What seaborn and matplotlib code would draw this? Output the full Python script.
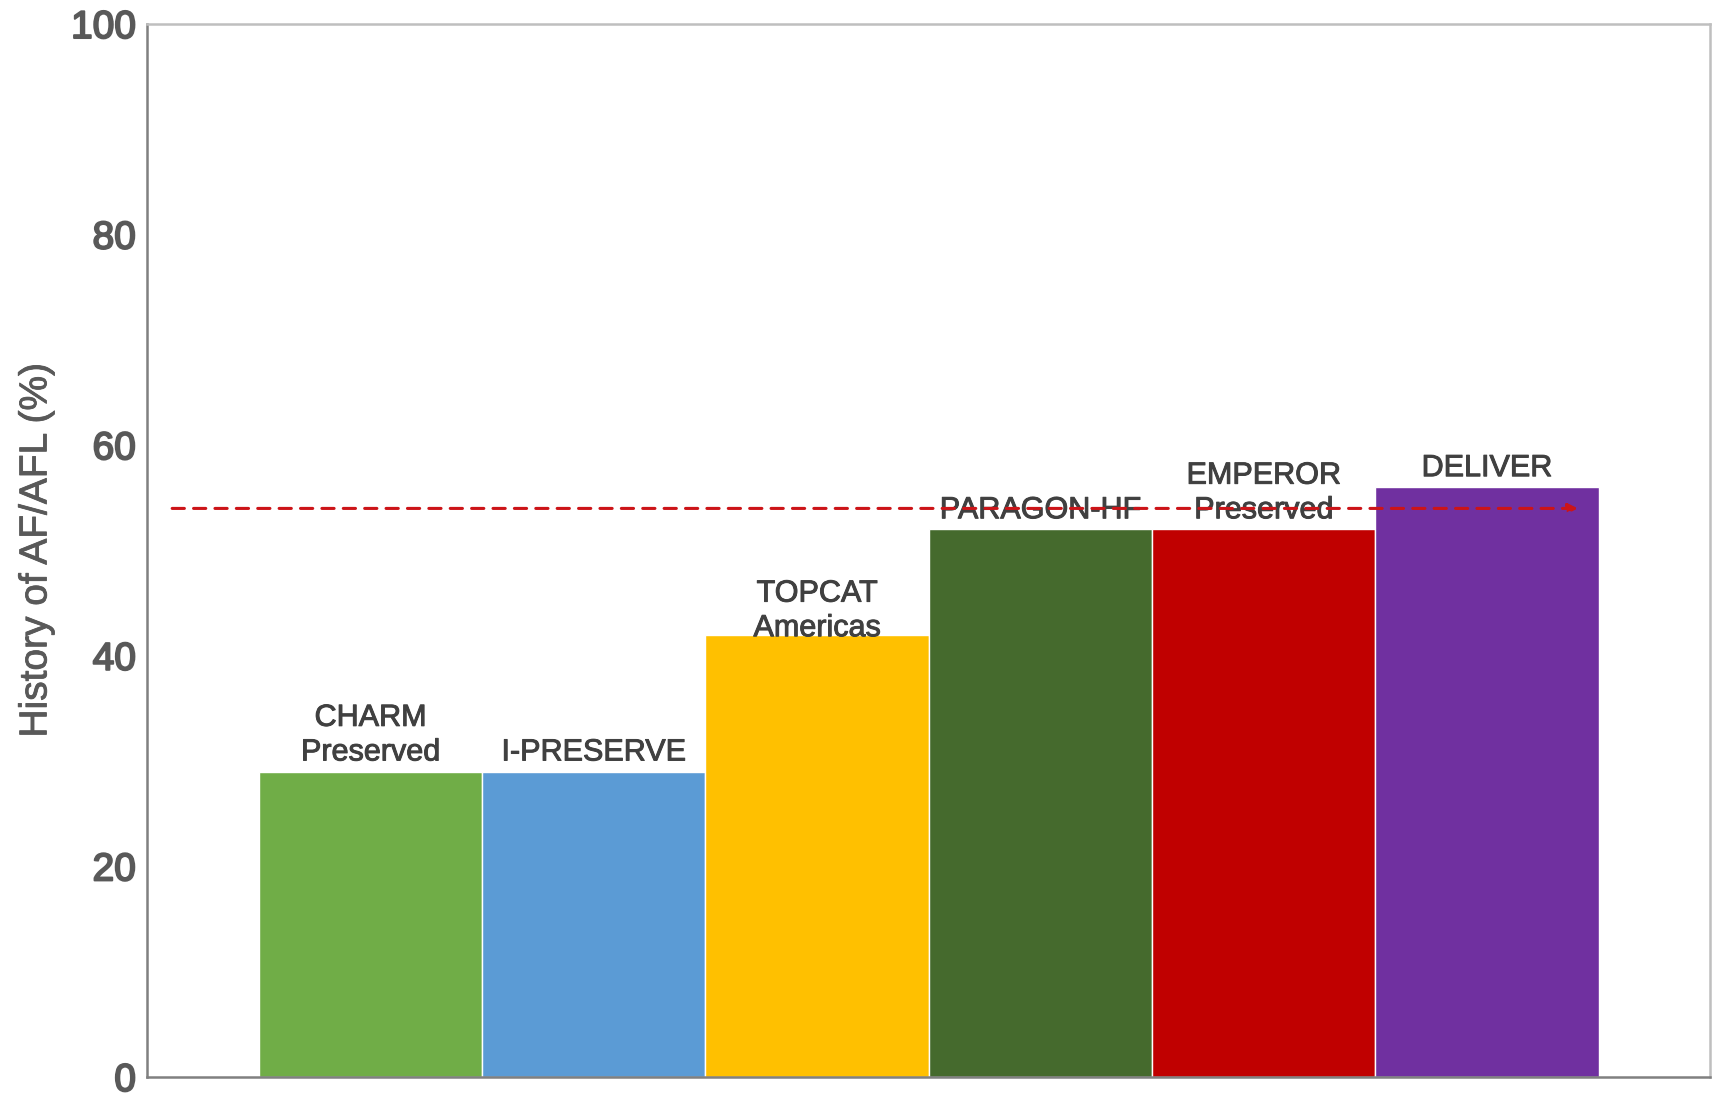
import matplotlib
matplotlib.use("Agg")
import matplotlib.pyplot as plt
import matplotlib.patheffects as pe
import seaborn as sns
import pandas as pd

# trial data
trials = ["CHARM\nPreserved", "I-PRESERVE", "TOPCAT\nAmericas", "PARAGON-HF", "EMPEROR\nPreserved", "DELIVER"]
af_pct = [29, 29, 42, 52, 52, 56]
bar_colors = ["#70AD47", "#5B9BD5", "#FFC000", "#456A2D", "#C00000", "#7030A0"]
trend_start = (-0.9, 54)
trend_end = (5.42, 54)
y_ticks = [0, 20, 40, 60, 80, 100]

sns.set_style("white")
plt.rcParams['font.family'] = ['Liberation Sans', 'DejaVu Sans']

df = pd.DataFrame({"trial": trials, "af": af_pct})

fig, ax = plt.subplots(figsize=(17.24, 10.93), dpi=100)
fig.subplots_adjust(left=0.0853, right=0.992, top=0.978, bottom=0.0146)

sns.barplot(data=df, x="trial", y="af", hue="trial", palette=dict(zip(trials, bar_colors)),
            width=1.0, saturation=1, legend=False, ax=ax)

semi = [pe.withStroke(linewidth=0.7, foreground="#404040")]

# labels above each bar (TOPCAT one sits a little lower in the original)
for i, (name, val) in enumerate(zip(trials, af_pct)):
    dy = -0.8 if name.startswith("TOPCAT") else 0.4
    ax.text(i, val + dy, name, ha="center", va="bottom", fontsize=22,
            color="#404040", linespacing=1.2, path_effects=semi)

# dashed trend arrow
ax.annotate("", xy=trend_end, xytext=trend_start,
            arrowprops=dict(arrowstyle="-|>", color="#CC1418", lw=2.2,
                            linestyle=(0, (4, 3)), mutation_scale=14))

ax.set_xlim(-1, 6)
ax.set_ylim(0, 100)
ax.set_yticks(y_ticks)
ax.set_xticks([])
ax.set_xlabel("")
ax.set_ylabel("History of AF/AFL (%)", fontsize=28, color="#595959", labelpad=12,
              path_effects=[pe.withStroke(linewidth=0.6, foreground="#595959")])
ax.tick_params(axis="y", labelsize=28, colors="#595959", length=0, pad=8)
for lbl in ax.get_yticklabels():
    lbl.set_path_effects([pe.withStroke(linewidth=1.4, foreground="#595959")])

for side in ["left", "bottom"]:
    ax.spines[side].set_color("#808080")
    ax.spines[side].set_linewidth(1.8)
for side in ["top", "right"]:
    ax.spines[side].set_color("#BFBFBF")
    ax.spines[side].set_linewidth(1.8)

fig.savefig("out.png", dpi=100)
